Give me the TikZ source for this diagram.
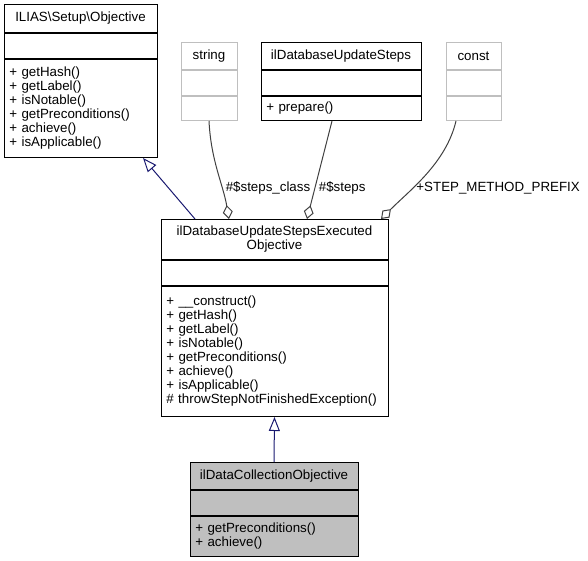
\documentclass[tikz,border=0pt]{standalone}
\usepackage{fontspec}
\setmainfont{Liberation Sans}
\usepackage{xcolor}
\usepackage{tikz}
\usetikzlibrary{arrows.meta,positioning,calc}

\definecolor{edgegray}{HTML}{404040}
\definecolor{inhblue}{HTML}{191970}
\definecolor{boxgray}{HTML}{BFBFBF}

\tikzset{
  cls/.style={draw, line width=0.75pt, fill=white, inner xsep=4pt, inner ysep=0pt,
    font=\fontsize{10}{10.5}\selectfont},
  extcls/.style={cls, draw=boxgray},
  curcls/.style={cls, fill=boxgray},
  inh/.style={draw=inhblue, line width=0.75pt, -{Triangle[open, length=10.5pt, width=8.25pt]}},
  agg/.style={draw=edgegray, line width=0.75pt, -{Diamond[open, length=10.5pt, width=7.5pt]}},
  lbl/.style={font=\fontsize{10}{10.5}\selectfont, text=black, inner sep=2.5pt}
}

\begin{document}
\begin{tikzpicture}[x=0.75pt, y=-0.75pt]
\useasboundingbox (0,0) rectangle (588,560);

% parent
\node[cls, minimum width=114.75pt, minimum height=21pt, anchor=north] (obj) at (80.5,4) {ILIAS\textbackslash Setup\textbackslash Objective};
\node[cls, minimum width=114.75pt, minimum height=18.75pt, below=0pt of obj] (obj-a) {};
\node[cls, text width=106.75pt, minimum height=73.5pt, align=left, below=0pt of obj-a] (obj-m)
  {+ getHash()\\+ getLabel()\\+ isNotable()\\+ getPreconditions()\\+ achieve()\\+ isApplicable()};

% member types
\node[extcls, minimum width=42pt, minimum height=20.25pt, anchor=north] (str) at (209,42) {string};
\node[extcls, minimum width=42pt, minimum height=18.75pt, below=0pt of str] (str-a) {};
\node[extcls, minimum width=42pt, minimum height=18pt, below=0pt of str-a] (str-m) {};

\node[cls, minimum width=120pt, minimum height=20.25pt, anchor=north] (steps) at (341,42) {ilDatabaseUpdateSteps};
\node[cls, minimum width=120pt, minimum height=18.75pt, below=0pt of steps] (steps-a) {};
\node[cls, text width=112pt, minimum height=18pt, align=left, below=0pt of steps-a] (steps-m) {+ prepare()};

\node[extcls, minimum width=41.25pt, minimum height=20.25pt, anchor=north] (cst) at (473.5,42) {const};
\node[extcls, minimum width=41.25pt, minimum height=18.75pt, below=0pt of cst] (cst-a) {};
\node[extcls, minimum width=41.25pt, minimum height=18pt, below=0pt of cst-a] (cst-m) {};

% executed objective
\node[cls, minimum width=170.25pt, minimum height=30pt, align=center, anchor=north] (main) at (274.5,219)
  {ilDatabaseUpdateStepsExecuted\\Objective};
\node[cls, minimum width=170.25pt, minimum height=18.75pt, below=0pt of main] (main-a) {};
\node[cls, text width=162.25pt, minimum height=97.5pt, align=left, below=0pt of main-a] (main-m)
  {+ \_\_construct()\\+ getHash()\\+ getLabel()\\+ isNotable()\\+ getPreconditions()\\+ achieve()\\+ isApplicable()\\\# throwStepNotFinishedException()};

% this class
\node[curcls, minimum width=126pt, minimum height=20.25pt, anchor=north] (dco) at (274,462) {ilDataCollectionObjective};
\node[curcls, minimum width=126pt, minimum height=18.75pt, below=0pt of dco] (dco-a) {};
\node[curcls, text width=118pt, minimum height=30pt, align=left, below=0pt of dco-a] (dco-m)
  {+ getPreconditions()\\+ achieve()};

% inheritance
\draw[inh] ($(main.north)+(-79.5,0)$) -- ($(obj-m.south)+(62.5,0)$);
\draw[inh] (dco.north) -- (main-m.south);

% members
\draw[agg] (str-m.south) .. controls +(2,40) and +(-6,-35) .. ($(main.north)+(-45.5,0)$)
  node[lbl, pos=0.68, right] (l-cls) {\#\$steps\_class};
\draw[agg] ($(steps-m.south)+(-9,0)$) -- ($(main.north)+(32.5,0)$)
  node[lbl, pos=0.68, right] (l-steps) {\#\$steps};
\draw[agg] ($(cst-m.south)+(-17.5,0)$) .. controls +(-10,42) and +(29,-29) .. ($(main.north)+(106.5,0)$)
  node[lbl, pos=0.65, right] (l-pre) {+STEP\_METHOD\_PREFIX};
\end{tikzpicture}
\end{document}
